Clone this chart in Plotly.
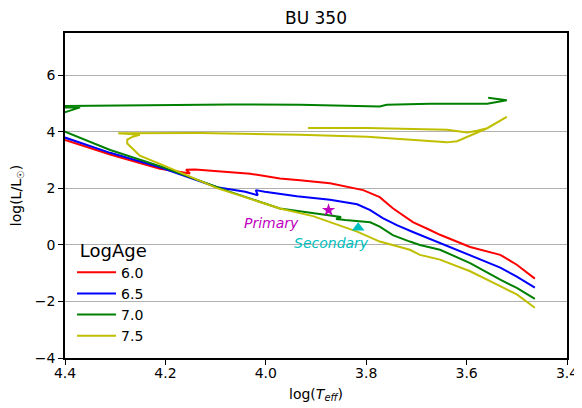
import plotly.graph_objects as go

# ---- data ----
ages = ["6.0", "6.5", "7.0", "7.5"]
colors = ["#ff0000", "#0000ff", "#008000", "#bfbf00"]

logT_60 = [4.40, 4.310, 4.211, 4.175, 4.151, 4.159, 4.141, 4.031, 3.972, 3.932, 3.872,
           3.806, 3.773, 3.747, 3.707, 3.673, 3.653, 3.593, 3.533, 3.500, 3.464]
logL_60 = [3.72, 3.20, 2.70, 2.59, 2.53, 2.66, 2.67, 2.52, 2.35, 2.29, 2.18,
           1.94, 1.69, 1.30, 0.81, 0.53, 0.36, -0.07, -0.35, -0.70, -1.19]

logT_65 = [4.40, 4.310, 4.211, 4.097, 4.041, 4.016, 4.020, 4.002, 3.938, 3.872, 3.818,
           3.792, 3.767, 3.739, 3.707, 3.653, 3.593, 3.533, 3.500, 3.464]
logL_65 = [3.80, 3.26, 2.75, 2.04, 1.88, 1.76, 1.94, 1.88, 1.72, 1.60, 1.44,
           1.23, 0.95, 0.70, 0.46, 0.07, -0.35, -0.80, -1.12, -1.51]

logT_70 = [3.464, 3.500, 3.533, 3.593, 3.653, 3.693, 3.713, 3.747, 3.773, 3.792, 3.842,
           3.860, 3.850, 3.906, 3.972, 4.071, 4.211, 4.310, 4.40, 4.46, 4.40, 4.37,
           4.45, 4.45, 4.40, 4.231, 4.071, 3.932, 3.773, 3.759, 3.673, 3.559, 3.520, 3.557]
logL_70 = [-1.91, -1.52, -1.23, -0.64, -0.17, 0.00, 0.12, 0.35, 0.65, 0.80, 0.88,
           0.92, 0.99, 1.12, 1.29, 1.88, 2.79, 3.36, 4.01, 4.35, 4.68, 4.87,
           4.86, 4.92, 4.92, 4.95, 4.97, 4.96, 4.90, 4.96, 5.00, 5.00, 5.12, 5.21]

logT_75 = [3.464, 3.500, 3.533, 3.593, 3.653, 3.693, 3.713, 3.773, 3.818, 3.906, 3.972,
           4.071, 4.097, 4.211, 4.251, 4.276, 4.276, 4.265, 4.251, 4.294, 4.131, 3.932,
           3.798, 3.733, 3.639, 3.619, 3.587, 3.559, 3.520, 3.559, 3.579, 3.599, 3.639,
           3.798, 3.916]
logL_75 = [-2.22, -1.75, -1.46, -0.93, -0.52, -0.35, -0.17, 0.12, 0.47, 1.02, 1.29,
           1.87, 2.01, 2.87, 3.16, 3.59, 3.73, 3.83, 3.90, 3.95, 3.96, 3.90,
           3.83, 3.75, 3.63, 3.67, 3.93, 4.13, 4.53, 4.13, 4.04, 3.98, 4.08,
           4.14, 4.14]

primary_T, primary_L = [3.875], [1.23]
secondary_T, secondary_L = [3.816], [0.61]

x_ticks = [4.4, 4.2, 4.0, 3.8, 3.6, 3.4]
x_ticklabels = ["4.4", "4.2", "4.0", "3.8", "3.6", "3.4"]
y_ticks = [-4, -2, 0, 2, 4, 6]

FONT = "DejaVu Sans"

# the page places the figure 8px in from the top-left corner of the window
W, H = 574, 400

fig = go.Figure()
series = [(logT_60, logL_60), (logT_65, logL_65), (logT_70, logL_70), (logT_75, logL_75)]
for (xs, ys), name, col in zip(series, ages, colors):
    fig.add_trace(go.Scatter(x=xs, y=ys, mode="lines", name=name,
                             line=dict(color=col, width=2)))

fig.add_trace(go.Scatter(x=primary_T, y=primary_L, mode="markers", showlegend=False,
                         marker=dict(symbol="star", size=10, color="#bf00bf")))
fig.add_trace(go.Scatter(x=secondary_T, y=secondary_L, mode="markers", showlegend=False,
                         marker=dict(symbol="triangle-up", size=11, color="#00bfbf")))

fig.add_annotation(x=4.048, y=0.79, text="Primary", showarrow=False,
                   xanchor="left", yanchor="middle",
                   font=dict(family=FONT, size=14, color="#bf00bf", style="italic"))
fig.add_annotation(x=3.948, y=0.08, text="Secondary", showarrow=False,
                   xanchor="left", yanchor="middle",
                   font=dict(family=FONT, size=14, color="#00bfbf", style="italic"))

fig.update_layout(
    width=W, height=H,
    margin=dict(l=57, r=15, t=25, b=50, autoexpand=False),
    paper_bgcolor="white", plot_bgcolor="white",
    font=dict(family=FONT, size=14, color="black"),
    title=dict(text="BU 350", x=308 / W, xanchor="center", y=1 - 10 / H, yanchor="middle",
               font=dict(family=FONT, size=17, color="black")),
    showlegend=True,
    legend=dict(x=0.014, y=0.384, xanchor="left", yanchor="top",
                bgcolor="rgba(0,0,0,0)", borderwidth=0,
                font=dict(family=FONT, size=14), itemwidth=39,
                title=dict(text="\u00a0LogAge", font=dict(family=FONT, size=18), side="top")),
)
fig.update_xaxes(range=[4.4, 3.4], tickvals=x_ticks, ticktext=x_ticklabels, automargin=False,
                 showgrid=False, zeroline=False, showline=True, linecolor="black", linewidth=1.8,
                 mirror=True, ticks="outside", ticklen=5, tickwidth=1.2, tickcolor="black",
                 ticklabelstandoff=-4,
                 title=dict(text="log(<i>T</i><sub><i>eff</i></sub>)", standoff=9,
                            font=dict(family=FONT, size=14)))
fig.update_yaxes(range=[-4, 7.5], tickvals=y_ticks, automargin=False,
                 showgrid=True, gridcolor="#b0b0b0", gridwidth=1.2,
                 zeroline=False, showline=True, linecolor="black", linewidth=1.8,
                 mirror=True, ticks="outside", ticklen=5, tickwidth=1.2, tickcolor="black",
                 title=dict(text="log(L/L<sub>☉</sub>)", standoff=10,
                            font=dict(family=FONT, size=14)))

fig.write_html("out.html")
